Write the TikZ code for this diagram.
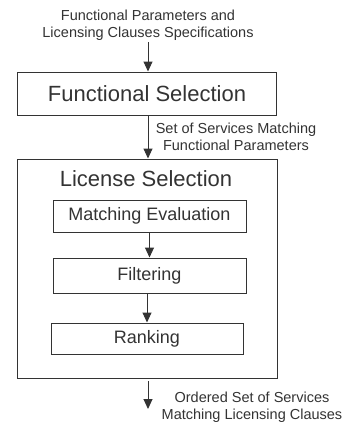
\documentclass[tikz,border=0pt]{standalone}
\usepackage{fontspec}
\setmainfont{Liberation Sans}
\usetikzlibrary{arrows.meta}
\definecolor{ink}{HTML}{333333}
\tikzset{
  x=1pt, y=-1pt,
  box/.style={draw=ink, line width=1pt, inner sep=0pt, text=ink},
  flow/.style={draw=ink, line width=1pt, -{Triangle[length=10pt,width=9pt]}},
  lbl/.style={text=ink, font=\fontsize{14.5}{17}\selectfont, align=center, inner sep=0pt},
  big/.style={font=\fontsize{22}{24}\selectfont},
  mid/.style={font=\fontsize{18}{20}\selectfont},
}
\begin{document}
\begin{tikzpicture}
\useasboundingbox (0,0) rectangle (342,426);
\node[lbl] (in) at (148,25) {Functional Parameters and\\Licensing Clauses Specifications};
\node[box, big, minimum width=259pt, minimum height=43pt] (fs) at (147,93.5) {Functional Selection};
\node[box, minimum width=260pt, minimum height=219pt] (ls) at (147,268.5) {};
\node[text=ink, big, inner sep=0pt] (lt) at (146,179) {License Selection};
\node[box, mid, minimum width=193pt, minimum height=32pt] (me) at (149.5,216) {Matching Evaluation};
\node[box, mid, minimum width=193pt, minimum height=35pt] (fi) at (149.5,275.5) {Filtering};
\node[box, mid, minimum width=192pt, minimum height=31pt] (rk) at (147,338.5) {Ranking};
\coordinate (o1) at (148,381);
\coordinate (o2) at (148,409);
\coordinate (i1) at (148,42);
\draw[flow] (i1) -- (fs.north -| i1);
\draw[flow] (fs.south -| i1) -- (ls.north -| i1);
\draw[flow] (me) -- (fi);
\draw[flow] (fi.south -| rk) -- (rk);
\draw[flow] (o1) -- (o2);
\node[lbl] (l1) at (236,137) {Set of Services Matching\\Functional Parameters};
\node[lbl] (l2) at (252,407) {Ordered Set of Services\\Matching Licensing Clauses};
\end{tikzpicture}
\end{document}
